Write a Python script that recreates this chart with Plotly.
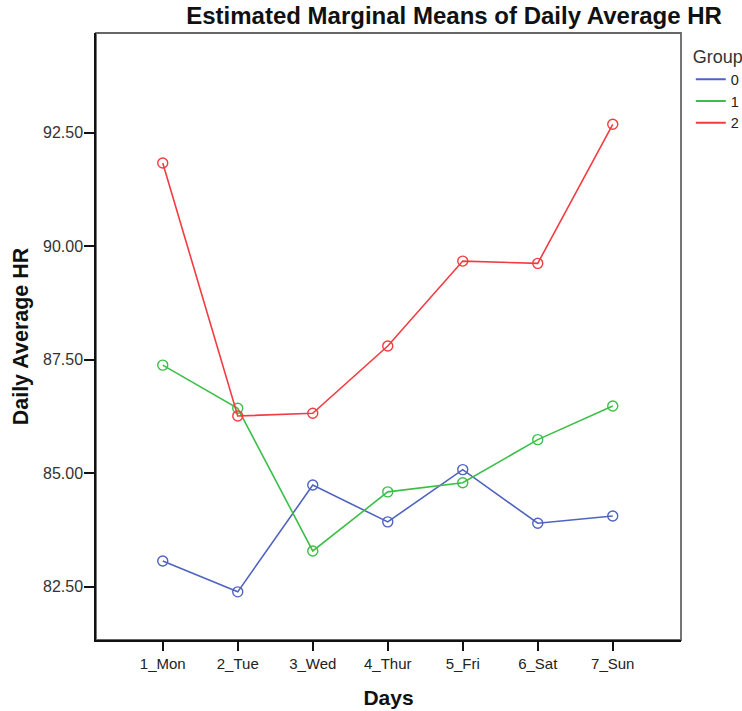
import plotly.graph_objects as go

days = ["1_Mon", "2_Tue", "3_Wed", "4_Thur", "5_Fri", "6_Sat", "7_Sun"]
group0 = [83.07, 82.39, 84.74, 83.93, 85.08, 83.90, 84.06]
group1 = [87.38, 86.43, 83.29, 84.59, 84.79, 85.74, 86.48]
group2 = [91.83, 86.26, 86.32, 87.80, 89.67, 89.62, 92.68]
group_names = ["0", "1", "2"]
colors = ["#4f63c0", "#3cbf4a", "#f23c42"]
y_ticks = [82.5, 85.0, 87.5, 90.0, 92.5]

fig = go.Figure()
for name, vals, col in zip(group_names, [group0, group1, group2], colors):
    fig.add_trace(go.Scatter(
        x=days, y=vals, name=name, mode="lines+markers", showlegend=False,
        line=dict(color=col, width=1.6),
        marker=dict(symbol="circle-open", size=10, color=col, line=dict(width=1.4)),
    ))
# legend entries (line only, as in the reference)
for name, col in zip(group_names, colors):
    fig.add_trace(go.Scatter(
        x=[None], y=[None], name=name, mode="lines",
        line=dict(color=col, width=2), showlegend=True,
    ))

fig.update_layout(
    width=742, height=711,
    margin=dict(l=96, r=61, t=33, b=71, autoexpand=False),
    paper_bgcolor="white", plot_bgcolor="white",
    font=dict(family="Liberation Sans, Arial, sans-serif", color="#222"),
    title=dict(text="<b>Estimated Marginal Means of Daily Average HR</b>",
               x=0.612, xanchor="center", y=0.978, yanchor="middle",
               font=dict(size=24, color="#111")),
    showlegend=True,
    legend=dict(title=dict(text="Group", font=dict(size=18, color="#333")),
                xref="container", yref="container",
                x=0.931, xanchor="left", y=0.944, yanchor="top",
                font=dict(size=14.5, color="#222"), itemwidth=30,
                tracegroupgap=0, bgcolor="rgba(0,0,0,0)"),
    shapes=[dict(type="rect", xref="paper", yref="paper", x0=0, x1=1, y0=0, y1=1,
                 line=dict(color="#666", width=1.8), layer="below")],
)
fig.update_xaxes(
    type="category", categoryorder="array", categoryarray=days,
    range=[-0.89, 6.91], showgrid=False, zeroline=False, automargin=False,
    showline=True, linecolor="#111", linewidth=1.5, mirror=False,
    ticks="outside", ticklen=9, tickcolor="#111", tickwidth=1.5,
    tickfont=dict(size=15, color="#222"),
    title=dict(text="<b>Days</b>", font=dict(size=21, color="#111"), standoff=20),
)
fig.update_yaxes(
    range=[81.33, 94.69], tickvals=y_ticks, tickformat=".2f",
    showgrid=False, zeroline=False, automargin=False,
    showline=True, linecolor="#111", linewidth=1.5, mirror=False,
    ticks="outside", ticklen=10, tickcolor="#111", tickwidth=1.5,
    tickfont=dict(size=16, color="#333"), ticklabelstandoff=-2,
    title=dict(text="<b>Daily Average HR</b>", font=dict(size=21.5, color="#111"), standoff=8),
)

fig.write_html("out.html")
